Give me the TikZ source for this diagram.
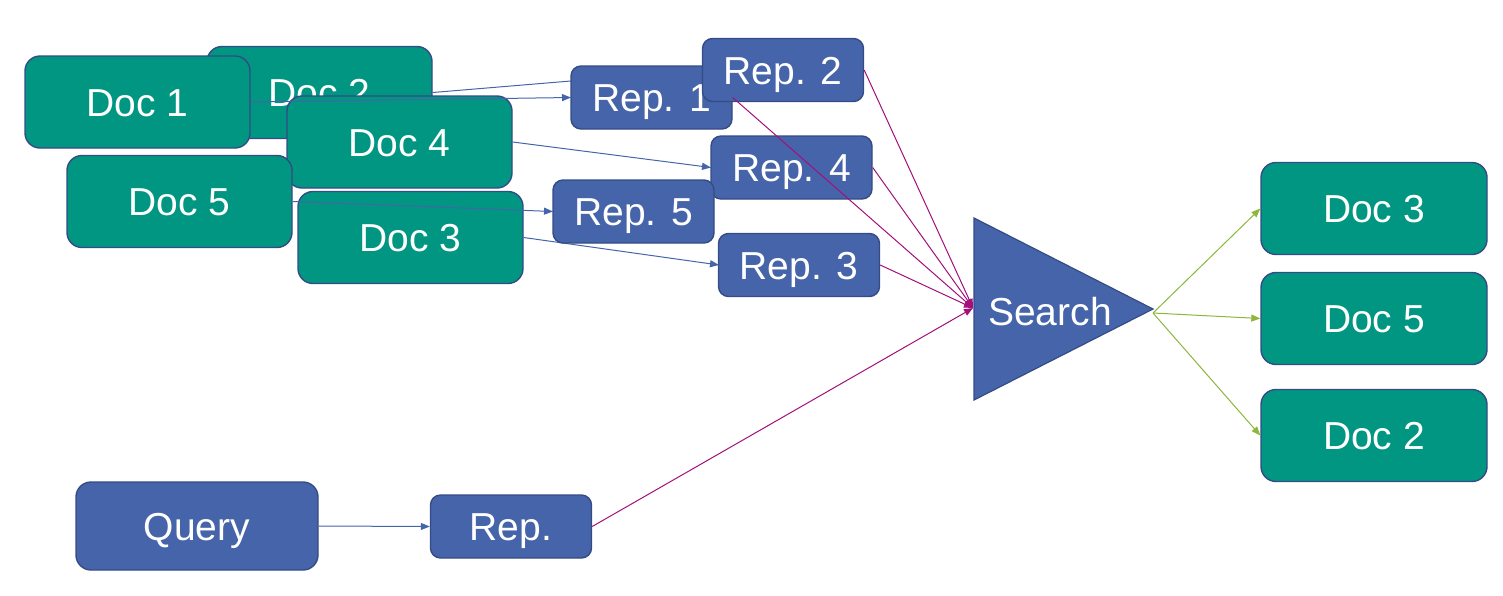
\documentclass[tikz,border=0pt]{standalone}
\usepackage{fontspec}
\setmainfont{Liberation Sans}
\usetikzlibrary{arrows.meta}
\definecolor{kitgreen}{HTML}{009682}
\definecolor{kitblue}{HTML}{4664AA}
\definecolor{edgeblue}{HTML}{344C85}
\definecolor{kitmagenta}{HTML}{A3107C}
\definecolor{kitmay}{HTML}{8CB63C}
\tikzset{
  boxtext/.style={text=white, font=\fontsize{39}{46}\selectfont, text height=28pt, text depth=0pt},
  docbox/.style={boxtext, draw=edgeblue, line width=1.4pt, fill=kitgreen, rounded corners=15pt,
    minimum width=225pt, minimum height=92pt, inner sep=0pt},
  repbox/.style={boxtext, draw=edgeblue, line width=1.4pt, fill=kitblue, rounded corners=10pt,
    minimum width=161pt, minimum height=63pt, inner sep=0pt},
  qbox/.style={repbox, rounded corners=15pt, minimum width=242pt, minimum height=88pt},
  tip/.style={-{Triangle[length=9pt,width=7pt]}},
  bluearrow/.style={tip, draw=kitblue, line width=1pt},
  magarrow/.style={tip, draw=kitmagenta, line width=1pt},
  grnarrow/.style={tip, draw=kitmay, line width=1pt},
}
\begin{document}
\begin{tikzpicture}[x=1pt,y=-1pt]
\useasboundingbox (0,0) rectangle (1503,595);
% left document cluster
\node[docbox] (d2) at (319.5,92.5) {Doc 2};
\node[docbox] (d1) at (137.5,102) {Doc 1};
\node[docbox] (d4) at (399.5,142) {Doc 4};
\node[docbox] (d5) at (179.5,201.5) {Doc 5};
\node[docbox] (d3) at (410.5,237.5) {Doc 3};
% query
\node[qbox] (q) at (197,526) {Query};
% blue arrows
\draw[bluearrow] (d1.east) -- (571,97.5) coordinate (r1w);
\draw[bluearrow] (d2.east) -- (703,70) coordinate (r2w);
\draw[bluearrow] (d4.east) -- (711,167.5) coordinate (r4w);
\draw[bluearrow] (d5.east) -- (553,211.5) coordinate (r5w);
\draw[bluearrow] (d3.east) -- (719,265) coordinate (r3w);
% representations
\node[repbox] (r1) at (651.5,97.5) {Rep. 1};
\node[repbox] (r2) at (783,70) {Rep. 2};
\node[repbox] (r4) at (791.5,167.5) {Rep. 4};
\node[repbox] (r5) at (633.5,211.5) {Rep. 5};
\node[repbox] (r3) at (799,265) {Rep. 3};
\node[repbox] (rq) at (511,526.5) {Rep.};
\draw[bluearrow] (q.east) -- (rq.west);
% search triangle
\coordinate (stl) at (974,218);
\coordinate (sbl) at (974,400);
\coordinate (sap) at (1153,309);
\fill[kitblue] (stl) -- (sap) -- (sbl) -- cycle;
\draw[edgeblue, line width=1.2pt, line join=miter] (stl) -- (sap) -- (sbl) -- cycle;
\node[boxtext, inner sep=0pt] (search) at (1050,311) {Search};
\coordinate (sin) at (973,308);
\coordinate (sout) at (1153,313);
% magenta arrows
\draw[magarrow] (r1.east) -- (sin);
\draw[magarrow] (r2.east) -- (sin);
\draw[magarrow] (r4.east) -- (sin);
\draw[magarrow] (r3.east) -- (sin);
\draw[magarrow] (rq.east) -- (sin);
% results
\node[docbox, minimum width=226pt] (o3) at (1374,208.5) {Doc 3};
\node[docbox, minimum width=226pt] (o5) at (1374,318.5) {Doc 5};
\node[docbox, minimum width=226pt] (o2) at (1374,435.5) {Doc 2};
\draw[grnarrow] (sout) -- (o3.west);
\draw[grnarrow] (sout) -- (o5.west);
\draw[grnarrow] (sout) -- (o2.west);
\end{tikzpicture}
\end{document}
